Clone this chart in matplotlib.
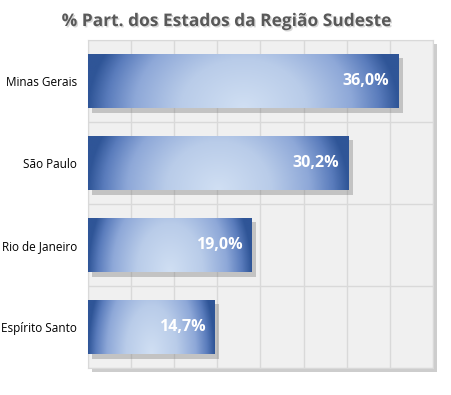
import numpy as np
import matplotlib
matplotlib.use('Agg')
from matplotlib import pyplot as plt
import matplotlib.patheffects as pe
from matplotlib.colors import LinearSegmentedColormap

# data
estados = ['Minas Gerais', 'São Paulo', 'Rio de Janeiro', 'Espírito Santo']
participacao = [36.0, 30.2, 19.0, 14.7]
rotulos = ['36,0%', '30,2%', '19,0%', '14,7%']
titulo = '% Part. dos Estados da Região Sudeste'

plt.rcParams['font.family'] = ['Open Sans', 'DejaVu Sans']

fig = plt.figure(figsize=(4.52, 3.95), dpi=100)
ax = fig.add_axes([88 / 452, 27 / 395, 345 / 452, 328 / 395])
ax.set_facecolor('#f0f0f0')
ax.patch.set_path_effects([pe.SimplePatchShadow(offset=(3, -3), shadow_rgbFace='#909090', alpha=0.45),
                           pe.Normal()])

y = np.arange(len(estados))
altura = 0.67
bars = ax.barh(y, participacao, height=altura, color='#2f5597', zorder=2)

# radial gradient, light at bottom centre, dark at the ends
cmap = LinearSegmentedColormap.from_list(
    'grad', [(0, '#d0dff3'), (0.4, '#b9cce9'), (0.7, '#8ea8d8'), (0.88, '#5a7cbc'), (1, '#2f5597')])
nx_, ny_ = 300, 80
u = np.linspace(0, 1, nx_)
v = np.linspace(0, 1, ny_)
U, V = np.meshgrid(u, v)
d = np.sqrt(((U - 0.5) / 0.5) ** 2 + ((V - 1.0) / 2.2) ** 2)
d = np.clip(d, 0, 1)

for b, val in zip(bars, participacao):
    b.set_path_effects([pe.SimplePatchShadow(offset=(3, -3), shadow_rgbFace='#707070', alpha=0.35),
                        pe.Normal()])
    x0, y0 = b.get_x(), b.get_y()
    w, h = b.get_width(), b.get_height()
    im = ax.imshow(d, cmap=cmap, extent=(x0, x0 + w, y0 + h, y0), origin='upper',
                   aspect='auto', zorder=3, interpolation='bilinear')
    im.set_clip_path(b)

for i, (val, txt) in enumerate(zip(participacao, rotulos)):
    ax.text(val - 1.1, i, txt, ha='right', va='center', color='white',
            fontsize=11.5, fontweight='bold', zorder=4)

ax.set_xlim(0, 40)
ax.set_ylim(len(estados) - 0.5, -0.5)
ax.set_xticks(np.arange(0, 41, 5))
ax.set_yticks(np.arange(-0.5, len(estados), 1), minor=False)
ax.set_yticks(y, minor=True)
ax.set_yticklabels([], minor=False)
ax.set_yticklabels(estados, minor=True, fontsize=8.5)
ax.set_xticklabels([])
ax.tick_params(which='both', length=0)
ax.tick_params(axis='y', which='minor', pad=8)
ax.grid(True, which='major', color='#d9d9d9', linewidth=1, zorder=0)
ax.set_axisbelow(True)
for s in ax.spines.values():
    s.set_color('#d9d9d9')

fig.text(0.5, 1 - 21 / 395, titulo, ha='center', va='center', fontsize=12.5,
         fontweight='bold', color='#595959',
         path_effects=[pe.withSimplePatchShadow(offset=(1, -1), shadow_rgbFace='#b0b0b0', alpha=0.5)])

fig.savefig('out.png', dpi=100)
